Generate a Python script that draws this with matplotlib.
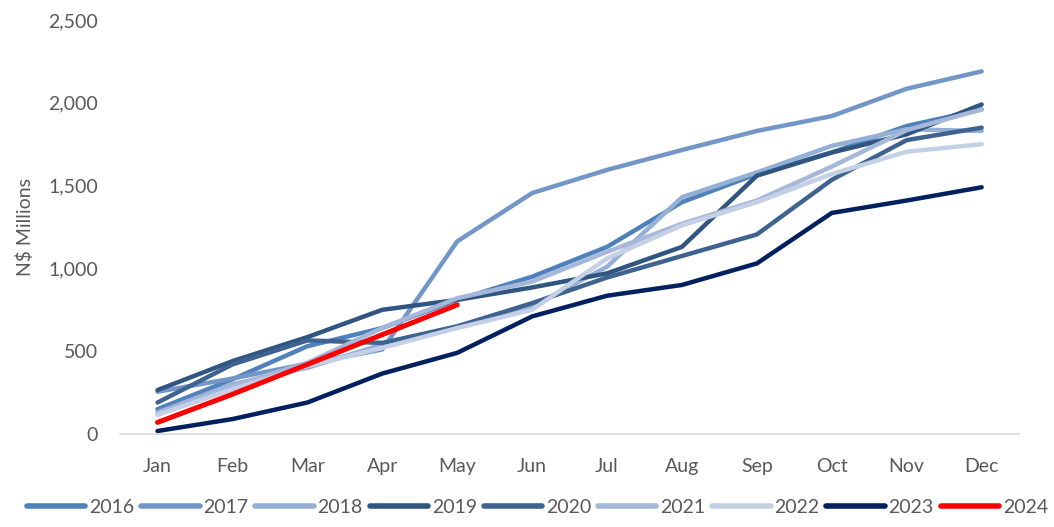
import matplotlib
matplotlib.use("Agg")
import matplotlib.pyplot as plt

months = ["Jan", "Feb", "Mar", "Apr", "May", "Jun", "Jul", "Aug", "Sep", "Oct", "Nov", "Dec"]
years = ["2016", "2017", "2018", "2019", "2020", "2021", "2022", "2023", "2024"]

v2016 = [150, 330, 530, 640, 810, 950, 1130, 1400, 1570, 1700, 1860, 1960]
v2017 = [255, 335, 425, 510, 1163, 1455, 1595, 1715, 1830, 1920, 2085, 2190]
v2018 = [130, 300, 400, 540, 650, 770, 1010, 1430, 1580, 1740, 1840, 1830]
v2019 = [265, 440, 585, 750, 810, 885, 970, 1130, 1560, 1700, 1810, 1990]
v2020 = [190, 420, 565, 550, 650, 790, 945, 1075, 1205, 1535, 1775, 1850]
v2021 = [125, 290, 430, 640, 820, 920, 1100, 1270, 1410, 1615, 1835, 1960]
v2022 = [115, 270, 410, 520, 640, 750, 1060, 1260, 1400, 1570, 1705, 1750]
v2023 = [18, 90, 190, 365, 490, 710, 835, 900, 1030, 1335, 1410, 1490]
v2024 = [70, 240, 420, 600, 780]

series = [v2016, v2017, v2018, v2019, v2020, v2021, v2022, v2023, v2024]
colors = ["#4F81BD", "#7396C8", "#95B0D6", "#2F5580", "#3E6390",
          "#A5B8DA", "#C3D0E6", "#002060", "#FF0000"]
widths = [3.2, 3.2, 3.2, 3.2, 3.2, 3.2, 3.2, 3.2, 3.6]

plt.rcParams['font.family'] = ['Lato', 'DejaVu Sans']
fig = plt.figure(figsize=(10.54, 5.27), dpi=100)
ax = fig.add_axes([0.1139, 0.1765, 0.853, 0.7855])

for name, vals, c, w in zip(years, series, colors, widths):
    ax.plot(range(len(vals)), vals, color=c, lw=w, label=name,
            solid_capstyle="round", solid_joinstyle="round")

ax.set_xlim(-0.5, 11.5)
ax.set_ylim(0, 2500)
ax.set_xticks(range(12))
ax.set_xticklabels(months)
ax.set_yticks([0, 500, 1000, 1500, 2000, 2500])
ax.set_yticklabels(["0", "500", "1,000", "1,500", "2,000", "2,500"])
ax.tick_params(axis="both", length=0, labelsize=14, colors="#595959")
ax.tick_params(axis="x", pad=17)
ax.tick_params(axis="y", pad=16)
for s in ["top", "right", "left"]:
    ax.spines[s].set_visible(False)
ax.spines["bottom"].set_color("#D9D9D9")
ax.spines["bottom"].set_linewidth(1.2)
ax.set_ylabel("N$ Millions", fontsize=14, color="#595959", labelpad=10)

leg = fig.legend(loc="lower center", bbox_to_anchor=(0.51, -0.012), ncol=9,
                 frameon=False, fontsize=14, handlelength=3.0, handletextpad=0.2,
                 columnspacing=0.35, labelcolor="#595959")
for line in leg.get_lines():
    line.set_linewidth(4)
    line.set_solid_capstyle("round")

fig.savefig("out.png", dpi=100)
